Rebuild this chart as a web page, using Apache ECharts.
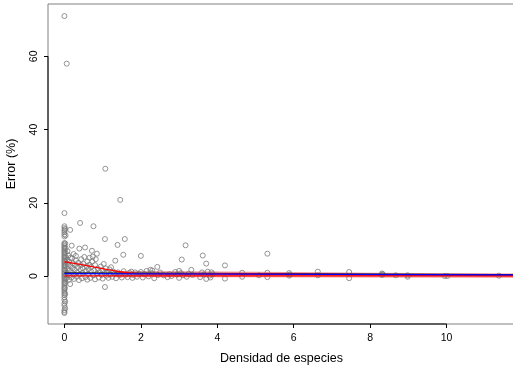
<!DOCTYPE html>
<html>
<head>
<meta charset="utf-8">
<script src="https://cdn.jsdelivr.net/npm/echarts@6/dist/echarts.min.js"></script>
<style>
  html, body { margin: 0; padding: 0; background: #fff; }
  #chart { width: 513px; height: 370px; }
</style>
</head>
<body>
<div id="chart"></div>
<script>
// Observations: [densidad de especies, error %]
const puntos = [
  [0,-10.1],[0,-9.8],[0,-9.3],[0,-8.1],[0,-7.5],[0,-6.5],[0,-5.8],[0,-5.2],[0,-4.6],[0,-4.1],
  [0,-3.6],[0,-3.1],[0,-2.6],[0,-2.1],[0,-1.6],[0,-1.1],[0,-0.6],[0,-0.2],[0,0.2],[0,0.6],
  [0,1.0],[0,1.4],[0,1.8],[0,2.2],[0,2.6],[0,3.0],[0,3.4],[0,3.8],[0,4.2],[0,4.6],
  [0,5.0],[0,5.4],[0,5.8],[0,6.2],[0,6.6],[0,7.0],[0,7.4],[0,7.8],[0,8.2],[0,8.6],
  [0,9.0],[0,10.8],[0,11.4],[0,12.0],[0,12.5],[0,13.1],[0,13.6],[0,17.2],[0,71.0],[0.06,58.0],
  [0.02,-8.8],[0.02,-7.0],[0.02,-4.9],[0.01,-3.3],[0.02,-1.9],[0.03,-0.8],[0.03,0.4],[0.02,1.6],
  [0.03,2.9],[0.02,4.0],[0.03,5.2],[0.02,6.4],[0.03,7.6],[0.02,8.9],[0.03,11.1],[0.02,12.8],
  [0.06,-0.5],[0.07,0.8],[0.08,2.0],[0.09,3.3],[0.07,4.5],[0.1,5.6],[0.08,6.8],[0.12,-1.0],
  [0.13,0.2],[0.14,1.5],[0.15,2.8],[0.12,3.9],[0.16,5.0],[0.15,12.6],[0.15,-2.2],[0.18,-0.4],
  [0.19,8.3],[0.2,0.9],[0.21,2.2],[0.22,3.5],[0.2,4.8],[0.24,6.0],[0.25,-0.8],[0.26,0.4],
  [0.27,1.7],[0.28,3.0],[0.3,4.3],[0.3,5.5],
  [0.32,-0.2],[0.33,1.0],[0.35,2.4],[0.36,3.6],[0.38,-1.1],[0.39,7.5],[0.4,0.5],[0.41,14.5],
  [0.42,1.8],[0.43,3.0],[0.44,4.6],[0.46,-0.6],[0.47,0.9],[0.48,2.2],[0.5,3.3],[0.52,5.2],
  [0.54,7.8],[0.55,-0.3],[0.56,1.3],[0.58,2.6],[0.6,4.0],[0.6,-1.0],[0.62,0.6],[0.63,1.9],
  [0.65,3.1],[0.66,5.0],[0.68,-0.5],[0.7,1.2],[0.7,2.5],
  [0.72,6.9],[0.73,4.0],[0.74,5.3],[0.75,0.2],[0.76,13.6],[0.78,1.5],[0.8,3.0],[0.8,-0.9],
  [0.82,4.6],[0.85,6.1],[0.85,0.7],[0.87,2.0],[0.9,-0.4],[0.92,1.1],[0.95,2.6],[0.97,0.3],
  [1.0,1.6],[1.0,-0.7],[1.03,3.3],[1.05,0.8],[1.06,10.1],[1.06,-3.0],[1.07,29.3],[1.08,2.1],
  [1.1,0.1],[1.12,1.0],[1.15,-0.5],[1.18,1.8],[1.2,0.4],[1.22,2.4],[1.25,-0.2],[1.28,1.2],[1.3,0.6],
  [1.33,4.2],[1.35,-0.6],[1.39,8.5],[1.4,1.0],[1.45,0.3],[1.46,20.8],[1.5,-0.4],[1.54,5.8],
  [1.55,1.3],[1.58,10.1],[1.6,0.4],[1.65,-0.3],[1.7,0.9],[1.75,1.2],[1.78,-0.5],[1.8,0.3],
  [1.85,1.0],[1.9,-0.2],[1.95,0.6],[2.0,5.5],[2.0,1.1],[2.05,-0.4],[2.1,0.5],[2.15,1.4],
  [2.2,-0.1],[2.25,1.7],[2.28,0.8],[2.3,1.5],[2.35,-0.6],[2.43,2.5],[2.45,0.3],[2.5,1.0],
  [2.6,0.2],[2.7,-0.3],[2.75,0.5],[2.8,0.0],[2.9,1.1],[2.95,0.4],[3.0,1.4],[3.0,-0.5],
  [3.05,0.8],[3.07,4.5],[3.1,0.2],[3.17,8.4],[3.2,-0.2],[3.25,0.6],[3.32,1.7],[3.35,0.3],
  [3.55,-0.3],[3.6,1.0],[3.62,5.6],[3.65,0.4],[3.71,3.4],[3.71,-0.8],[3.75,1.2],[3.8,0.1],
  [3.82,-0.4],[3.85,1.0],[3.88,0.5],[4.2,2.9],[4.2,-0.7],[4.65,0.9],[4.65,-0.2],
  [5.09,0.2],[5.31,6.1],[5.31,0.9],[5.31,-0.3],[5.88,0.8],[5.88,0.1],[5.9,0.4],[6.63,1.2],
  [6.63,0.2],[7.45,1.1],[7.45,-0.6],[8.31,0.7],[8.31,0.3],[8.33,0.5],[8.67,0.2],[8.98,0.2],
  [8.98,-0.2],[9.95,0.0],[10.02,0.0],[11.37,0.1]
];

// Fitted curves
const ajusteLineal = [[0,0.9],[11.8,0.4]];          // black
const ajusteAzul = [[0,0.65],[11.8,0.3]];           // blue
const ajusteRojo = [[0,3.9],[0.45,3.1],[1.06,1.9],[1.5,1.1],[1.85,0.7],[2.5,0.6],[4.9,0.55],[8,0.35],[11.8,0.1]];
const rojoBase = [[0,0.05],[11.8,0.05]];
// Confidence band around the red fit
const bandaX = [1.3, 3, 5, 8, 11.8];
const bandaInf = [-0.3, -0.3, -0.3, -0.4, -0.5];
const bandaSup = [1.4, 1.3, 1.2, 0.9, 0.7];

// Axis settings
const xMin = -0.43, xMax = 11.79;
const yMin = -13.1, yMax = 74.3;
const xTicks = [0, 2, 4, 6, 8, 10];
const yTicks = [0, 20, 40, 60];

const chart = echarts.init(document.getElementById('chart'), null, { renderer: 'canvas' });
const fontFamily = '"Liberation Sans", Arial, Helvetica, sans-serif';

chart.setOption({
  animation: false,
  backgroundColor: '#fff',
  grid: {
    left: 48, top: 4, right: -2, bottom: 46,
    containLabel: false, outerBoundsMode: 'none',
    show: true, borderColor: '#808080', borderWidth: 1, backgroundColor: 'transparent'
  },
  xAxis: {
    type: 'value', min: xMin, max: xMax,
    name: 'Densidad de especies', nameLocation: 'middle', nameGap: 28,
    nameTextStyle: { fontFamily, fontSize: 12.5, color: '#000' },
    axisLine: { show: false, onZero: false },
    axisTick: { show: true, length: 4, customValues: xTicks, lineStyle: { color: '#000', width: 1 } },
    axisLabel: { customValues: xTicks, fontFamily, fontSize: 10.5, color: '#000', margin: 9 },
    splitLine: { show: false }
  },
  yAxis: {
    type: 'value', min: yMin, max: yMax,
    name: 'Error (%)', nameLocation: 'middle', nameGap: 30, nameRotate: 90,
    nameTextStyle: { fontFamily, fontSize: 12.5, color: '#000' },
    axisLine: { show: false, onZero: false },
    axisTick: { show: true, length: 4, customValues: yTicks, lineStyle: { color: '#000', width: 1 } },
    axisLabel: { customValues: yTicks, rotate: 90, fontFamily, fontSize: 10.5, color: '#000', margin: 8 },
    splitLine: { show: false }
  },
  series: [
    {
      // shaded confidence band, drawn as one polygon through the axis scales
      type: 'custom', silent: true, z: 1,
      data: [0],
      renderItem: function (params, api) {
        const upper = bandaX.map((x, i) => api.coord([x, bandaSup[i]]));
        const lower = bandaX.map((x, i) => api.coord([x, bandaInf[i]])).reverse();
        return {
          type: 'polygon',
          shape: { points: upper.concat(lower) },
          style: { fill: 'rgba(240,70,70,0.6)', stroke: 'none' }
        };
      }
    },
    {
      type: 'scatter', data: puntos, symbol: 'circle', symbolSize: 5,
      itemStyle: { color: 'rgba(0,0,0,0)', borderColor: '#7a7a7a', borderWidth: 1 }, z: 2
    },
    {
      type: 'line', data: ajusteLineal, symbol: 'none',
      lineStyle: { color: '#222', width: 1 }, z: 3
    },
    {
      type: 'line', data: rojoBase, symbol: 'none',
      lineStyle: { color: '#ff0000', width: 1.3 }, z: 4
    },
    {
      type: 'line', data: ajusteRojo, symbol: 'none', smooth: 0.3,
      lineStyle: { color: '#ff0000', width: 1.3 }, z: 4
    },
    {
      type: 'line', data: ajusteAzul, symbol: 'none',
      lineStyle: { color: '#0000ff', width: 1.2 }, z: 5
    },
    // Dark axis segments spanning the labelled ticks
    {
      type: 'line', data: [[xTicks[0], yMin], [xTicks[xTicks.length - 1], yMin]], symbol: 'none',
      clip: false, silent: true, lineStyle: { color: '#000', width: 1 }, z: 6
    },
    {
      type: 'line', data: [[xMin, yTicks[0]], [xMin, yTicks[yTicks.length - 1]]], symbol: 'none',
      clip: false, silent: true, lineStyle: { color: '#000', width: 1 }, z: 6
    }
  ]
});
</script>
</body>
</html>
